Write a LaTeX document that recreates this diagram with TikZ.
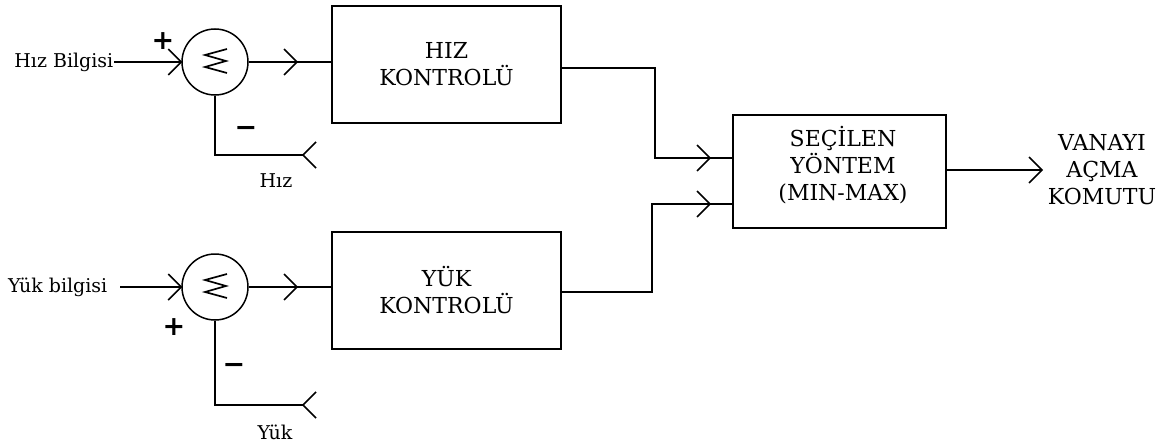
\documentclass[tikz,border=0pt]{standalone}
\usepackage{fontspec}
\setmainfont{DejaVu Serif}
\newfontfamily\signfont{DejaVu Sans}
\begin{document}
\begin{tikzpicture}[x=1pt,y=-1pt,line width=1.5pt,
  lbl/.style={font=\fontsize{19}{22}\selectfont,inner sep=0pt},
  captxt/.style={font=\fontsize{22}{27}\selectfont,align=center,inner sep=0pt},
  block/.style={draw,rectangle,inner sep=0pt},
  sumnode/.style={draw,circle,minimum size=66pt,inner sep=0pt},
  sgn/.style={font=\signfont\bfseries\fontsize{27}{27}\selectfont,inner sep=0pt},
  pics/chevR/.style={code={\draw[line join=miter] (-13,-13) -- (0,0) -- (-13,13);}},
  zig/.style={line width=1.7pt,line join=miter},
]
\useasboundingbox (0,0) rectangle (1163,444);

% summing junctions
\node[sumnode] (s1) at (215,62) {};
\node[sumnode] (s2) at (215,287) {};
\draw[zig] (s1.center) ++(12,-13) -- ++(-22,6) -- ++(21,6) -- ++(-21,6) -- ++(22,6);
\draw[zig] (s2.center) ++(12,-13) -- ++(-22,6) -- ++(21,6) -- ++(-21,6) -- ++(22,6);

% controller blocks
\node[block,minimum width=229pt,minimum height=117pt,captxt] (b1) at (446.5,64.5) {HIZ\\KONTROLÜ};
\node[block,minimum width=229pt,minimum height=117pt,captxt] (b2) at (446.5,290.5) {YÜK\\KONTROLÜ};
\node[block,minimum width=213pt,minimum height=113pt] (c) at (839.5,171.5) {};
\node[captxt] (ct) at (843,165) {SEÇİLEN\\YÖNTEM\\(MIN-MAX)};

% input texts
\node[lbl,anchor=east] (t1) at (114,62) {Hız Bilgisi};
\node[lbl,anchor=east] (t2) at (108,287) {Yük bilgisi};
\coordinate (in2) at (120,287);
\node[lbl] (f1) at (276,181) {Hız};
\node[lbl] (f2) at (275,432) {Yük};
\node[captxt] (out) at (1102,170) {VANAYI\\AÇMA\\KOMUTU};

% signs
\node[sgn] (p1) at (163,41) {+};
\node[sgn] (m1) at (246,131) {−};
\node[sgn] (p2) at (174,327) {+};
\node[sgn] (m2) at (234,368) {−};

% input lines
\draw (t1.east) -- (s1.west);
\pic at (s1.west) {chevR};
\draw (in2) -- (s2.west);
\pic at (s2.west) {chevR};

% junction to controller
\coordinate (a1) at (297,62);
\coordinate (a2) at (297,287);
\draw (s1.east) -- (s1.east -| b1.west);
\pic at (a1) {chevR};
\draw (s2.east) -- (s2.east -| b2.west);
\pic at (a2) {chevR};

% feedback branches
\coordinate (e1) at (303,155);
\coordinate (e2) at (303,405);
\draw (s1.south) |- (e1);
\pic[rotate=180] at (e1) {chevR};
\draw (s2.south) |- (e2);
\pic[rotate=180] at (e2) {chevR};

% controller outputs to the selector
\coordinate (j1) at (655,68);
\coordinate (k1) at (655,158);
\coordinate (j2) at (652,292);
\coordinate (k2) at (652,204);
\draw (b1.east |- j1) -- (j1) -- (k1) -- (k1 -| c.west);
\draw (b2.east |- j2) -- (j2) -- (k2) -- (k2 -| c.west);
\coordinate (g1) at (710,158);
\coordinate (g2) at (710,204);
\pic at (g1) {chevR};
\pic at (g2) {chevR};

% selector output
\coordinate (o) at (1042,170);
\draw (c.east |- o) -- (o);
\pic at (o) {chevR};
\end{tikzpicture}
\end{document}
